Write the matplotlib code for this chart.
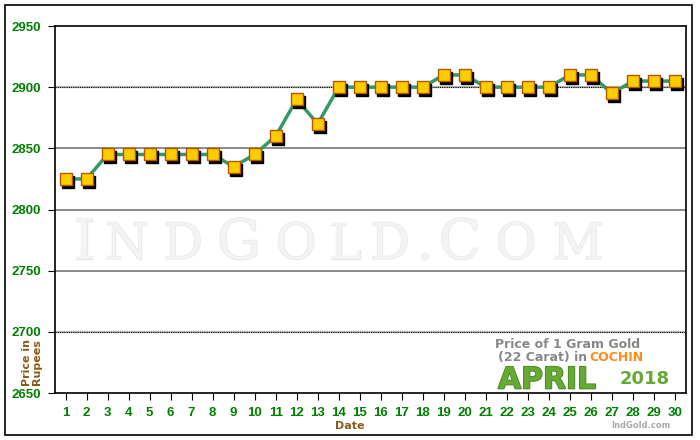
import matplotlib
matplotlib.use("Agg")
import matplotlib.pyplot as plt
import matplotlib.transforms as mtransforms
from matplotlib.patches import Rectangle
import matplotlib.patheffects as pe

days = list(range(1, 31))
prices = [2825, 2825, 2845, 2845, 2845, 2845, 2845, 2845, 2835, 2845,
          2860, 2890, 2870, 2900, 2900, 2900, 2900, 2900, 2910, 2910,
          2900, 2900, 2900, 2900, 2910, 2910, 2895, 2905, 2905, 2905]
yticks = [2650, 2700, 2750, 2800, 2850, 2900, 2950]

W, H = 700, 440
fig = plt.figure(figsize=(7, 4.4), dpi=100)
fig.patch.set_facecolor("white")
fig.add_artist(Rectangle((5/W, 5/H), 687/W, 430/H, transform=fig.transFigure,
                         fill=False, edgecolor="black", linewidth=1.2))

ax = fig.add_axes([55/W, 1-393/H, 630.5/W, 367/H])
ax.set_xlim(0.5, 30.5)
ax.set_ylim(2650, 2950)

for y in [2750, 2800, 2850]:
    ax.axhline(y, color="#777777", linewidth=1.2, zorder=1)
for y in [2700, 2900]:
    ax.axhline(y, color="#bbbbbb", linewidth=1.6, zorder=1)
    ax.axhline(y, color="black", linewidth=0.8, linestyle=(0, (1, 1)), zorder=1)

# watermark (small caps look)
wm = [("I", 84, 40), ("N", 127, 36), ("D", 183, 36), ("G", 239, 40), ("O", 296, 36),
      ("L", 345, 36), ("D", 390, 36), (".", 425, 36), ("C", 460, 40), ("O", 516, 36),
      ("M", 578, 36)]
for ch, xc, fs in wm:
    fig.text(xc/W, 1-259/H, ch, ha="center", va="baseline", fontsize=fs,
             family="DejaVu Serif", color="#f3f3f3", zorder=0.5,
             path_effects=[pe.withStroke(linewidth=1.0, foreground="#e8e8e8")])
ax.set_facecolor("none")

ax.plot(days, prices, color="#339966", linewidth=2.5, zorder=3)
shadow = ax.transData + mtransforms.ScaledTranslation(2/100, -3/100, fig.dpi_scale_trans)
ax.plot(days, prices, linestyle="none", marker="s", markersize=8, color="black",
        zorder=3.5, transform=shadow)
ax.plot(days, prices, linestyle="none", marker="s", markersize=8,
        markerfacecolor="#FFCC00", markeredgecolor="#B35900", markeredgewidth=1.0, zorder=4)

ax.set_xticks(days)
ax.set_xticklabels([str(d) for d in days])
ax.set_yticks(yticks)
ax.tick_params(axis="x", colors="black", labelcolor="#008000", labelsize=9.5, length=5,
               direction="out", pad=5)
ax.tick_params(axis="y", colors="black", labelcolor="#008000", labelsize=9.5, length=5,
               direction="out", pad=5)
for lab in ax.get_xticklabels() + ax.get_yticklabels():
    lab.set_fontweight("bold")
    lab.set_family("Liberation Sans")

for s in ["top", "right", "left", "bottom"]:
    ax.spines[s].set_linewidth(1.2)
    ax.spines[s].set_color("black")
ax.spines["bottom"].set_linestyle((0, (2, 1)))

fig.text(350/W, 1-426/H, "Date", ha="center", va="center", fontsize=8,
         fontweight="bold", color="#8B5A1A", family="DejaVu Sans")
fig.text(32/W, 1-362/H, "Price in\nRupees", ha="center", va="center", fontsize=8,
         fontweight="bold", color="#8B5A1A", rotation=90, linespacing=1.0,
         family="DejaVu Sans")

fig.text(568/W, 1-344/H, "Price of 1 Gram Gold", ha="center", va="center",
         fontsize=9, fontweight="bold", color="#888888")
fig.text(498/W, 1-357/H, "(22 Carat) in ", ha="left", va="center",
         fontsize=9, fontweight="bold", color="#888888")
fig.text(589/W, 1-357/H, "COCHIN", ha="left", va="center",
         fontsize=9, fontweight="bold", color="#FF8C1A")
fig.text(498/W, 1-380/H, "APRIL", ha="left", va="center", fontsize=21.5,
         fontweight="bold", color="#66AA33",
         path_effects=[pe.withStroke(linewidth=1.2, foreground="#448822")])
fig.text(620/W, 1-379/H, "2018", ha="left", va="center", fontsize=13,
         fontweight="bold", color="#66AA33")
fig.text(671/W, 1-425/H, "IndGold.com", ha="right", va="center", fontsize=6,
         fontweight="bold", color="#aaaaaa")

fig.savefig("out.png", dpi=100, facecolor="white")
